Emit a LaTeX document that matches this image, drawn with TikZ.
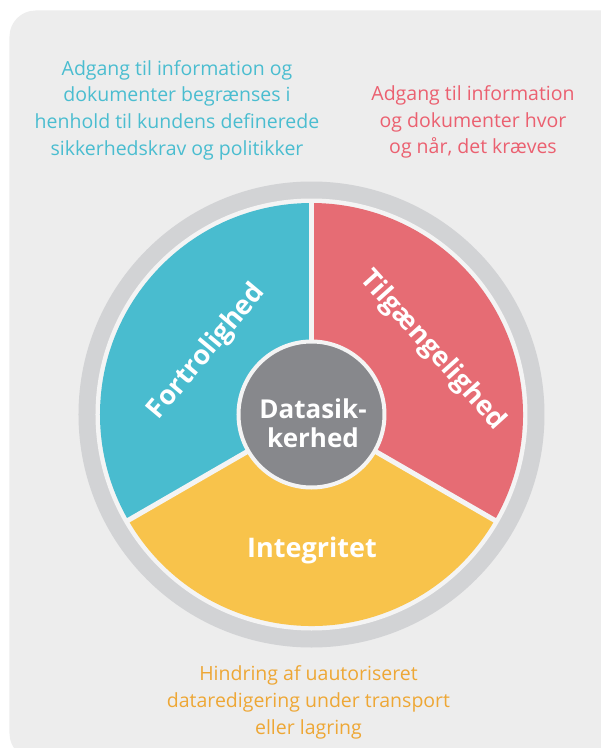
\documentclass[tikz,border=0pt]{standalone}
\usepackage{fontspec}
\setmainfont{Open Sans}
\usetikzlibrary{positioning}
\definecolor{bgGray}{HTML}{EDEDED}
\definecolor{ringGray}{HTML}{D2D3D5}
\definecolor{gapWhite}{HTML}{F4F4F4}
\definecolor{coreGray}{HTML}{87888C}
\definecolor{blueSlice}{HTML}{49BCCF}
\definecolor{redSlice}{HTML}{E66C74}
\definecolor{yellowSlice}{HTML}{F8C34B}
\definecolor{blueText}{HTML}{4ABDD0}
\definecolor{pinkText}{HTML}{EB6070}
\definecolor{orangeText}{HTML}{EEA735}
\begin{document}
\begin{tikzpicture}[x=1pt,y=1pt]
    \tikzset{GapLine/.style = {draw=gapWhite, line width=5pt},
      SliceLabel/.style = {text=white, font=\fontsize{27}{30}\selectfont\bfseries},
      NoteText/.style = {align=center, font=\fontsize{19.5}{26.7}\selectfont}}
    \useasboundingbox (-311.5,-333.5) rectangle (289.5,414.5);
    \fill[bgGray, rounded corners=26pt] (-302,404) rectangle (340,-345);
    \coordinate (O) at (0,0);
    \fill[ringGray] (O) circle (233);
    \fill[gapWhite] (O) circle (216);
    \fill[blueSlice] (O) -- (90:211.5) arc (90:210:211.5) -- cycle;
    \fill[yellowSlice] (O) -- (210:211.5) arc (210:330:211.5) -- cycle;
    \fill[redSlice] (O) -- (330:211.5) arc (330:450:211.5) -- cycle;
    \foreach \a in {90,210,330}
      \draw[GapLine] (O) -- (\a:213);
    \node[circle, fill=coreGray, draw=gapWhite, line width=4pt, minimum size=146pt,
      align=center, text=white, font=\fontsize{26}{29}\selectfont\bfseries] (core) at (O) {};
    \node[align=center, text=white, font=\fontsize{26}{29}\selectfont\bfseries] (coreText) at (1.5,-9) {Datasik-\\kerhed};
    \node[SliceLabel, rotate=50] (conf) at (-104.5,62.5) {Fortrolighed};
    \node[SliceLabel, rotate=-48] (avail) at (121,64) {Tilgængelighed};
    \node[SliceLabel] (integ) at (0.5,-135.5) {Integritet};
    \node[NoteText, text=blueText] (confNote) at (-134.5,304.5) {Adgang til information og\\dokumenter begrænses i\\henhold til kundens definerede\\sikkerhedskrav og politikker};
    \node[NoteText, text=pinkText] (availNote) at (161.5,292.5) {Adgang til information\\og dokumenter hvor\\og når, det kræves};
    \node[NoteText, text=orangeText] (integNote) at (-3,-288) {Hindring af uautoriseret\\dataredigering under transport\\eller lagring};
\end{tikzpicture}
\end{document}
